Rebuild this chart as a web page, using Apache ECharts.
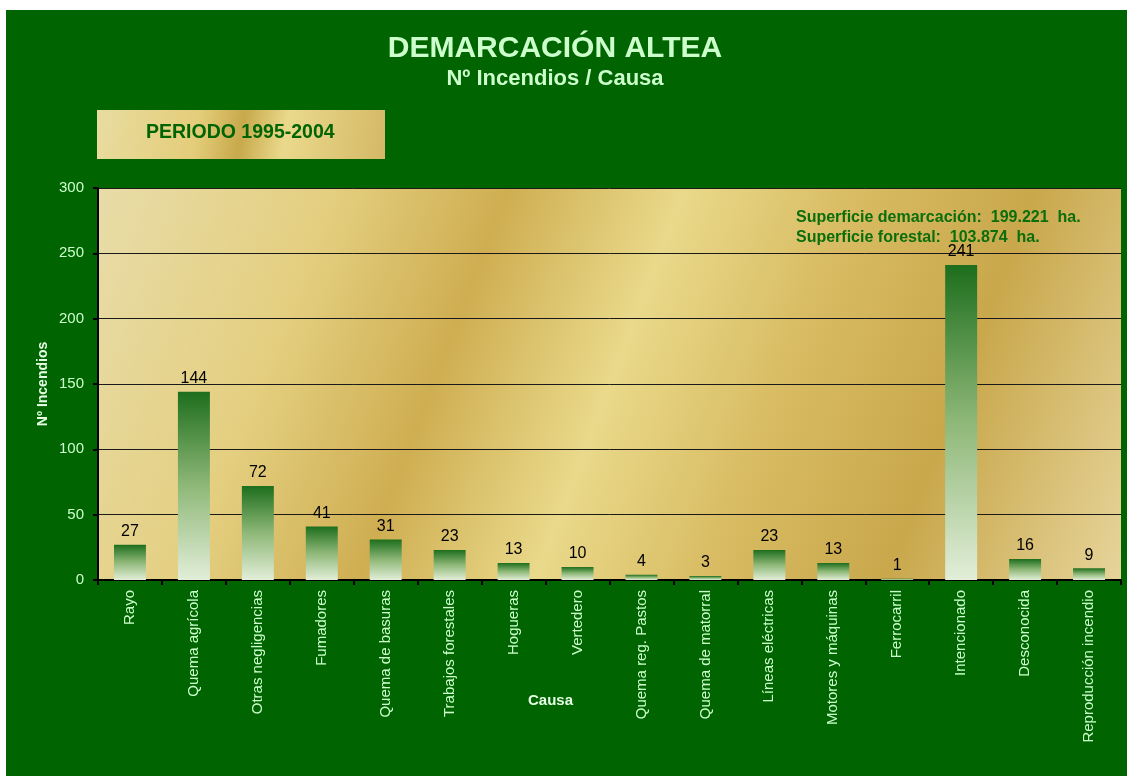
<!DOCTYPE html>
<html lang="es">
<head>
    <meta charset="UTF-8">
    <title>Demarcación Altea</title>
    <style>
        html, body { margin: 0; padding: 0; background: #ffffff; }
        #chart { width: 1127px; height: 776px; }
    </style>
    <script src="https://cdn.jsdelivr.net/npm/echarts@6/dist/echarts.min.js"></script>
</head>
<body>
<div id="chart"></div>
<script>
    // datos
    var causas = ["Rayo", "Quema agrícola", "Otras negligencias", "Fumadores", "Quema de basuras",
        "Trabajos forestales", "Hogueras", "Vertedero", "Quema reg. Pastos", "Quema de matorral",
        "Líneas eléctricas", "Motores y máquinas", "Ferrocarril", "Intencionado", "Desconocida",
        "Reproducción incendio"];
    var incendios = [27, 144, 72, 41, 31, 23, 13, 10, 4, 3, 23, 13, 1, 241, 16, 9];

    var gold = new echarts.graphic.LinearGradient(0, 0, 1, 1, [
        { offset: 0, color: "#e8dca8" },
        { offset: 0.2, color: "#e4cf80" },
        { offset: 0.35, color: "#cfae52" },
        { offset: 0.5, color: "#e9d98a" },
        { offset: 0.65, color: "#d8bb62" },
        { offset: 0.8, color: "#c9a84c" },
        { offset: 1, color: "#e6d49a" }
    ]);
    var barColor = new echarts.graphic.LinearGradient(0, 0, 0, 1, [
        { offset: 0, color: "#1d6e1d" },
        { offset: 0.5, color: "#8fb878" },
        { offset: 1, color: "#e2eed8" }
    ]);

    var myChart = echarts.init(document.getElementById("chart"));
    var option = {
        backgroundColor: "#ffffff",
        graphic: [
            { type: "rect", left: 6, top: 10, shape: { width: 1121, height: 766 }, style: { fill: "#006400" }, z: -10 },
            {
                type: "rect", left: 97, top: 110, shape: { width: 288, height: 49 },
                style: {
                    fill: new echarts.graphic.LinearGradient(0, 0, 1, 1, [
                        { offset: 0, color: "#e8dca0" },
                        { offset: 0.35, color: "#e4cd7a" },
                        { offset: 0.5, color: "#c8a94c" },
                        { offset: 0.65, color: "#ead98c" },
                        { offset: 1, color: "#d4b866" }
                    ])
                }
            },
            {
                type: "text", left: 146, top: 123,
                style: { text: "PERIODO 1995-2004", fill: "#006400", font: "bold 19.5px Arial, 'Liberation Sans', sans-serif" }
            },
            {
                type: "text", left: 796, top: 208, z: 10,
                style: {
                    text: "Superficie demarcación:  199.221  ha.\nSuperficie forestal:  103.874  ha.",
                    fill: "#0b6e0b", lineHeight: 20,
                    font: "bold 16px Arial, 'Liberation Sans', sans-serif"
                }
            }
        ],
        title: {
            text: "DEMARCACIÓN ALTEA",
            subtext: "Nº Incendios / Causa",
            left: 550, top: 29, textAlign: "center", itemGap: 4,
            textStyle: { color: "#ccffcc", fontSize: 30, fontWeight: "bold", fontFamily: "Arial" },
            subtextStyle: { color: "#ccffcc", fontSize: 22, fontWeight: "bold", fontFamily: "Arial" }
        },
        grid: {
            left: 98, top: 188, right: 6, bottom: 196,
            show: true, backgroundColor: gold, borderWidth: 0
        },
        xAxis: {
            type: "category",
            data: causas,
            name: "Causa",
            nameLocation: "middle",
            nameGap: 113,
            nameMoveOverlap: false,
            nameTextStyle: { color: "#e6ffe6", fontSize: 15, fontWeight: "bold", fontFamily: "Arial", padding: [0, 118, 0, 0] },
            axisLine: { lineStyle: { color: "#000000", width: 2 } },
            axisTick: { show: true, length: 5, lineStyle: { color: "#000000", width: 2 } },
            axisLabel: { rotate: 90, color: "#ccffcc", fontSize: 15, fontFamily: "Arial", margin: 10 }
        },
        yAxis: {
            type: "value",
            min: 0, max: 300, interval: 50,
            name: "Nº Incendios",
            nameLocation: "middle",
            nameGap: 48,
            nameMoveOverlap: false,
            nameTextStyle: { color: "#e6ffe6", fontSize: 14, fontWeight: "bold", fontFamily: "Arial" },
            axisLine: { show: true, lineStyle: { color: "#000000", width: 2 } },
            axisTick: { show: true, length: 5, lineStyle: { color: "#000000", width: 2 } },
            axisLabel: { color: "#ccffcc", fontSize: 15, fontFamily: "Arial", margin: 14 },
            splitLine: { lineStyle: { color: "#1a1a1a", width: 1 } }
        },
        series: [{
            type: "bar",
            data: incendios,
            barWidth: "50%",
            itemStyle: { color: barColor },
            label: {
                show: true, position: "top", distance: 5,
                color: "#000000", fontSize: 16, fontFamily: "Arial"
            }
        }]
    };
    myChart.setOption(option);
</script>
</body>
</html>
